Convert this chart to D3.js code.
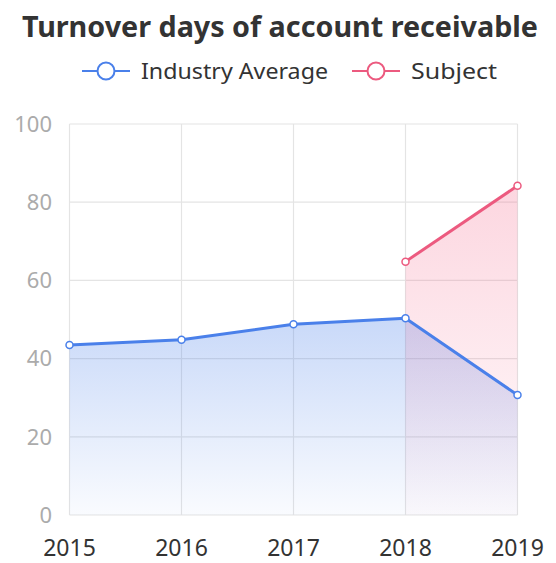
<!DOCTYPE html>
<html><head><meta charset="utf-8">
<script src="https://cdn.jsdelivr.net/npm/d3@7"></script>
<style>html,body{margin:0;padding:0;background:#fff;}svg{display:block;}</style>
</head><body>
<svg id="c" width="556" height="563"></svg>
<script>
const years = ["2015","2016","2017","2018","2019"];
const industryAverage = [43.5, 44.8, 48.8, 50.3, 30.7];
const subject = [null, null, null, 64.8, 84.2];
const yTicks = [0, 20, 40, 60, 80, 100];
const seriesNames = ["Industry Average", "Subject"];
const colors = ["#4a80ea", "#ec5a7f"];

const svg = d3.select("#c");
const font = "'Noto Sans', 'DejaVu Sans', sans-serif";
const x = d3.scalePoint().domain(years).range([69.5, 517.5]);
const y = d3.scaleLinear().domain([0, 100]).range([515, 124]);

const defs = svg.append("defs");
const g1 = defs.append("linearGradient").attr("id","gBlue").attr("x1",0).attr("y1",0).attr("x2",0).attr("y2",1);
g1.append("stop").attr("offset","0%").attr("stop-color","#4a80ea").attr("stop-opacity",0.3);
g1.append("stop").attr("offset","100%").attr("stop-color","#4a80ea").attr("stop-opacity",0.03);
const g2 = defs.append("linearGradient").attr("id","gPink").attr("x1",0).attr("y1",0).attr("x2",0).attr("y2",1);
g2.append("stop").attr("offset","0%").attr("stop-color","#f45c82").attr("stop-opacity",0.25);
g2.append("stop").attr("offset","100%").attr("stop-color","#f45c82").attr("stop-opacity",0.02);

// grid
svg.append("g").selectAll("line").data(yTicks).join("line")
  .attr("x1", x(years[0])).attr("x2", x(years[years.length-1]))
  .attr("y1", d=>y(d)).attr("y2", d=>y(d))
  .attr("stroke", "#e4e4e4").attr("stroke-width", 1.2);
svg.append("g").selectAll("line").data(years).join("line")
  .attr("x1", d=>x(d)).attr("x2", d=>x(d))
  .attr("y1", y(0)).attr("y2", y(100))
  .attr("stroke", "#e4e4e4").attr("stroke-width", 1.2);

// y labels
svg.append("g").selectAll("text").data(yTicks).join("text")
  .attr("x", 52).attr("y", d=>y(d)).attr("dy","0.35em")
  .attr("text-anchor","end").attr("font-family", font).attr("font-size", 22)
  .attr("fill", "#ababab").text(d=>d);
// x labels
svg.append("g").selectAll("text").data(years).join("text")
  .attr("x", d=>x(d)).attr("y", 548).attr("dy","0.35em")
  .attr("text-anchor","middle").attr("font-family", font).attr("font-size", 23)
  .attr("fill", "#333").text(d=>d);

function draw(vals, grad) {
  const pts = years.map((yr,i)=>({yr, v: vals[i]})).filter(d=>d.v!=null);
  const area = d3.area().x(d=>x(d.yr)).y0(y(0)).y1(d=>y(d.v));
  svg.append("path").datum(pts).attr("d", area).attr("fill", `url(#${grad})`);
  return pts;
}
const p1 = draw(industryAverage, "gBlue");
const p2 = draw(subject, "gPink");
const line = d3.line().x(d=>x(d.yr)).y(d=>y(d.v));
[[p1,colors[0]],[p2,colors[1]]].forEach(([pts,c])=>{
  svg.append("path").datum(pts).attr("d", line).attr("fill","none")
    .attr("stroke", c).attr("stroke-width", 3).attr("stroke-linejoin","round");
  svg.append("g").selectAll("circle").data(pts).join("circle")
    .attr("cx", d=>x(d.yr)).attr("cy", d=>y(d.v)).attr("r", 3.5)
    .attr("fill","#fff").attr("stroke", c).attr("stroke-width", 1.5);
});

// title
svg.append("text").attr("x", 280).attr("y", 37).attr("text-anchor","middle")
  .attr("font-family", font).attr("font-weight","bold").attr("font-size", 28)
  .attr("textLength", 516).attr("lengthAdjust","spacingAndGlyphs")
  .attr("fill","#333").text("Turnover days of account receivable");

// legend
const legX = [82, 352];
const legW = [187, 86];
seriesNames.forEach((n,i)=>{
  const gx = legX[i];
  const lg = svg.append("g");
  lg.append("line").attr("x1", gx).attr("x2", gx+48).attr("y1", 71).attr("y2", 71)
    .attr("stroke", colors[i]).attr("stroke-width", 2);
  lg.append("circle").attr("cx", gx+24).attr("cy", 71).attr("r", 8.5)
    .attr("fill","#fff").attr("stroke", colors[i]).attr("stroke-width", 2);
  lg.append("text").attr("x", gx+59).attr("y", 71).attr("dy","0.35em")
    .attr("font-family", font).attr("font-size", 22).attr("fill","#333")
    .attr("textLength", legW[i]).attr("lengthAdjust","spacingAndGlyphs").text(n);
});
</script>
</body></html>
